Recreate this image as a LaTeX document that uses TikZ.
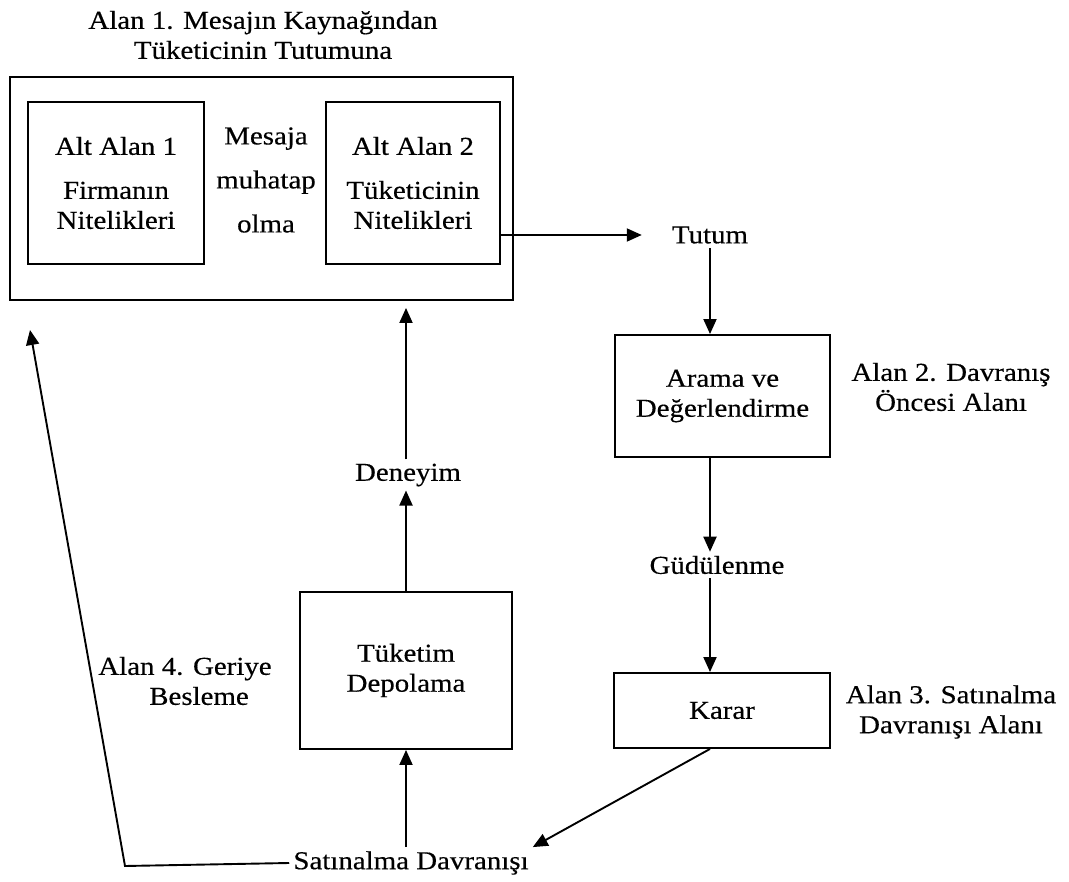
\documentclass[tikz,border=0pt]{standalone}
\usepackage{fontspec}
\setmainfont{Liberation Serif}[FakeStretch=1.12, FakeBold=0.4]
\usetikzlibrary{arrows.meta}
\begin{document}
\begin{tikzpicture}[x=1pt,y=-1pt,
  font=\fontsize{25.8}{30}\selectfont,
  box/.style={draw, line width=1.9pt, align=center, inner sep=0pt},
  lbl/.style={align=center, inner sep=4pt},
  flow/.style={line width=1.9pt, -{Triangle[length=15pt,width=13pt]}},
  plain/.style={line width=1.9pt}]
\useasboundingbox (0,0) rectangle (1069,882);

% Field 1: source of the message and its two sub-fields
\node[lbl] (title) at (263,35) {Alan 1. Mesajın Kaynağından\\Tüketicinin Tutumuna};
\node[box, minimum width=503pt, minimum height=223pt] (zone1) at (261.5,188.5) {};
\node[box, minimum width=176pt, minimum height=162pt] (alt1) at (116,183)
  {Alt Alan 1\\[14pt]Firmanın\\Nitelikleri};
\node[box, minimum width=174pt, minimum height=162pt] (alt2) at (413,183)
  {Alt Alan 2\\[14pt]Tüketicinin\\Nitelikleri};
\node[lbl, inner sep=0pt] (mesaja) at (266,180) {Mesaja\\[14pt]muhatap\\[14pt]olma};

% Right-hand column
\node[lbl] (tutum) at (710,235) {Tutum};
\node[box, minimum width=215pt, minimum height=122pt] (arama) at (722.5,396)
  {Arama ve\\Değerlendirme};
\node[lbl] (alan2) at (951,387) {Alan 2. Davranış\\Öncesi Alanı};
\node[lbl] (gud) at (717,565) {Güdülenme};
\node[box, minimum width=216pt, minimum height=75pt] (karar) at (722,710.5) {Karar};
\node[lbl] (alan3) at (951,712) {Alan 3. Satınalma\\Davranışı Alanı};

% Bottom and left-hand column
\node[lbl] (satin) at (411,863) {Satınalma Davranışı};
\node[box, minimum width=212pt, minimum height=157pt] (tuketim) at (406,670.5)
  {Tüketim\\Depolama};
\node[lbl] (deneyim) at (408,475) {Deneyim};
\node[lbl] (alan4) at (185,681) {Alan 4. Geriye\\\hspace*{28pt}Besleme};

\coordinate (fbcorner) at (125,866);
\coordinate (fbtip) at (30,330);

% Connectors
\draw[flow, shorten >=26pt] (alt2.east |- tutum) -- (tutum.west);
\draw[flow] (tutum.south) -- (tutum.south |- arama.north);
\draw[flow] (arama.south -| tutum) -- (tutum |- gud.north);
\draw[flow] (gud.south -| tutum) -- (tutum |- karar.north);
\draw[flow] (karar.south -| tutum) -- (satin.north east);
\draw[flow] (satin.north -| tuketim) -- (tuketim.south);
\draw[flow] (tuketim.north) -- (tuketim.north |- deneyim.south);
\draw[flow, shorten >=7pt] (deneyim.north -| tuketim) -- (tuketim.north |- zone1.south);
\draw[flow] (satin.west) -- (fbcorner) -- (fbtip);
\end{tikzpicture}
\end{document}
